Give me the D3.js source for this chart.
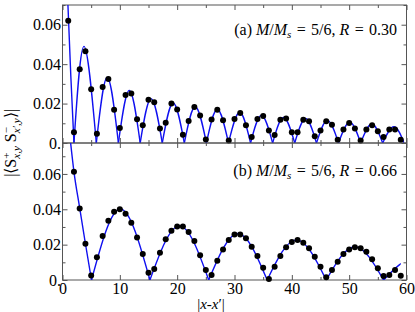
<!DOCTYPE html>
<html>
<head>
<meta charset="utf-8">
<script src="https://cdn.jsdelivr.net/npm/d3@7"></script>
<style>
  body { margin: 0; background: #fff; }
  svg text { font-family: "Liberation Serif", "Times New Roman", serif; fill: #000; }
</style>
</head>
<body>
<svg id="chart" width="415" height="312"></svg>
<script>
// (a) R = 0.30 : data points at |x-x'| = 1..59
const xA = d3.range(1, 60);
const valuesA = [
  0.062, 0.0055, 0.0374, 0.0466, 0.0273, 0.0047, 0.0284, 0.0325, 0.0169, 0.0076,
  0.0244, 0.0251, 0.012, 0.009, 0.022, 0.0207, 0.0073, 0.0103, 0.020, 0.017,
  0.0042, 0.0111, 0.0183, 0.0139, 0.0018, 0.0119, 0.0169, 0.0115, 0.0013, 0.0122,
  0.0152, 0.009, 0.003, 0.0122, 0.0137, 0.0064, 0.004, 0.0118, 0.0124, 0.0055,
  0.0055, 0.0118, 0.011, 0.0034, 0.0064, 0.011, 0.0093, 0.0017, 0.0068, 0.0101,
  0.0073, 0.0013, 0.0068, 0.009, 0.0059, 0.003, 0.0069, 0.0069, 0.0017
];
// fitted curve for (a): leading branch, zeros and arch tops
const leadA = [[0.85, 0.077], [1.45, 0.034], [2.0, 0]];
const zerosA = [2.0, 5.9, 9.75, 13.55, 17.4, 21.25, 25.1, 28.95, 32.8, 36.65, 40.5, 44.3, 48.15, 52.0, 55.85, 59.6];
const peaksA = [
  [3.75, 0.049], [7.8, 0.0332], [11.65, 0.0267], [15.45, 0.0225], [19.3, 0.0203],
  [23.15, 0.0184], [27.0, 0.0171], [30.9, 0.0156], [34.7, 0.014], [38.55, 0.013],
  [42.4, 0.0124], [46.2, 0.0115], [50.1, 0.0106], [53.95, 0.0096], [57.8, 0.0083]
];

// (b) R = 0.66 : data points at |x-x'| = 2..59
const xB = d3.range(2, 60);
const valuesB = [
  0.0612, 0.0405, 0.0205, 0.0026, 0.0128, 0.0249, 0.0335, 0.0386, 0.040,
  0.0375, 0.0324, 0.0241, 0.0147, 0.0041, 0.0062, 0.0154, 0.023, 0.0279, 0.0303,
  0.0303, 0.0271, 0.022, 0.014, 0.0056, 0.0028, 0.0109, 0.0173, 0.0226, 0.0258,
  0.0258, 0.0236, 0.0188, 0.0136, 0.007, 0.0006, 0.0075, 0.0136, 0.0185, 0.0215,
  0.0226, 0.0211, 0.0179, 0.0132, 0.0075, 0.0015, 0.0056, 0.0103, 0.0147, 0.0173,
  0.0185, 0.0179, 0.016, 0.0117, 0.0066, 0.0023, 0.0028, 0.0056, 0.0024
];
const leadB = [[1.3, 0.081], [2, 0.0612], [3, 0.0407], [4, 0.0205], [5.06, 0]];
const zerosB = [5.06, 15.25, 25.5, 35.7, 46.0, 56.0, 66.0];
const peaksB = [[10.1, 0.0402], [20.4, 0.0306], [30.6, 0.0263], [40.8, 0.0227], [51.0, 0.0188], [61.2, 0.012]];

const xMajor = [0, 10, 20, 30, 40, 50, 60];
const xMinor = [5, 15, 25, 35, 45, 55];
const yMajor = [0, 0.02, 0.04, 0.06];
const yMinor = [0.01, 0.03, 0.05, 0.07];

const panels = [
  { tag: "(a)", r: "0.30", xs: xA, vs: valuesA, lead: leadA, zeros: zerosA, peaks: peaksA,
    top: 5, bottom: 143, ymax: 0.07, xEnd: 59.6, labelY: 35 },
  { tag: "(b)", r: "0.66", xs: xB, vs: valuesB, lead: leadB, zeros: zerosB, peaks: peaksB,
    top: 143, bottom: 280, ymax: 0.0775, xEnd: 59.0, labelY: 176 }
];

const FONT = "Liberation Serif, Times New Roman, serif";
const svg = d3.select("#chart");
const left = 62.5, right = 406.5;
const x = d3.scaleLinear().domain([0, 60]).range([left, right]);
const yFmt = v => v === 0 ? "0." : d3.format(".2f")(v);
const frameColor = "#555";

panels.forEach((p, i) => {
  const y = d3.scaleLinear().domain([0, p.ymax]).range([p.bottom, p.top]);
  const g = svg.append("g");

  // clip so the curve stops at the panel edges
  svg.append("clipPath").attr("id", "clip" + i)
    .append("rect")
    .attr("x", left).attr("y", p.top)
    .attr("width", x(p.xEnd) - left).attr("height", p.bottom - p.top);

  // axes, ticks pointing inward
  const styleAxis = sel => {
    sel.attr("font-size", 16).attr("font-family", FONT);
    sel.select(".domain").remove();
    sel.selectAll("line").attr("stroke", frameColor);
    sel.selectAll("text").attr("font-family", FONT);
  };
  g.append("g").attr("transform", `translate(${left},0)`)
    .call(d3.axisLeft(y).tickValues(yMajor).tickSize(-5).tickPadding(1.5).tickFormat(yFmt)).call(styleAxis);
  g.append("g").attr("transform", `translate(${left},0)`)
    .call(d3.axisLeft(y).tickValues(yMinor.filter(v => v <= p.ymax)).tickSize(-3).tickFormat("")).call(styleAxis);
  g.append("g").attr("transform", `translate(${right},0)`)
    .call(d3.axisRight(y).tickValues(yMajor).tickSize(-5).tickFormat("")).call(styleAxis);
  g.append("g").attr("transform", `translate(${right},0)`)
    .call(d3.axisRight(y).tickValues(yMinor.filter(v => v <= p.ymax)).tickSize(-3).tickFormat("")).call(styleAxis);
  g.append("g").attr("transform", `translate(0,${p.bottom})`)
    .call(d3.axisBottom(x).tickValues(xMajor).tickSize(-5).tickPadding(3)
      .tickFormat(i === 1 ? d3.format("d") : "")).call(styleAxis);
  g.append("g").attr("transform", `translate(0,${p.bottom})`)
    .call(d3.axisBottom(x).tickValues(xMinor).tickSize(-3).tickFormat("")).call(styleAxis);
  g.append("g").attr("transform", `translate(0,${p.top})`)
    .call(d3.axisTop(x).tickValues(xMajor).tickSize(-5).tickFormat("")).call(styleAxis);
  g.append("g").attr("transform", `translate(0,${p.top})`)
    .call(d3.axisTop(x).tickValues(xMinor).tickSize(-3).tickFormat("")).call(styleAxis);

  g.append("rect")
    .attr("x", left).attr("y", p.top)
    .attr("width", right - left).attr("height", p.bottom - p.top)
    .attr("fill", "none").attr("stroke", frameColor).attr("stroke-width", 1);

  // fitted curve: leading branch + one arch between each pair of zeros
  const curveG = g.append("g").attr("clip-path", `url(#clip${i})`);
  const leadLine = d3.line().x(d => x(d[0])).y(d => y(d[1])).curve(d3.curveMonotoneX);
  const archLine = d3.line().x(d => x(d[0])).y(d => y(d[1])).curve(d3.curveNatural);
  curveG.append("path").attr("d", leadLine(p.lead))
    .attr("fill", "none").attr("stroke", "#1010f0").attr("stroke-width", 1.4);
  p.peaks.forEach((pk, k) => {
    curveG.append("path")
      .attr("d", archLine([[p.zeros[k], 0], pk, [p.zeros[k + 1], 0]]))
      .attr("fill", "none").attr("stroke", "#1010f0").attr("stroke-width", 1.4);
  });

  // data points
  g.selectAll("circle.pt").data(p.xs.map((xv, k) => [xv, p.vs[k]]))
    .enter().append("circle")
    .attr("class", "pt")
    .attr("cx", d => x(d[0]))
    .attr("cy", d => y(d[1]))
    .attr("r", 3)
    .attr("fill", "#000");

  // panel label
  const t = g.append("text")
    .attr("x", 397).attr("y", p.labelY)
    .attr("text-anchor", "end").attr("font-size", 16).attr("font-family", FONT);
  t.append("tspan").text(p.tag + " ");
  t.append("tspan").attr("font-style", "italic").text("M");
  t.append("tspan").text("/");
  t.append("tspan").attr("font-style", "italic").text("M");
  t.append("tspan").attr("font-style", "italic").attr("font-size", 11).attr("dy", 3).text("s");
  t.append("tspan").attr("dy", -3).text("\u2004=\u20045/6, ");
  t.append("tspan").attr("font-style", "italic").text("R");
  t.append("tspan").text("\u2004=\u2004" + p.r);
});

// x axis title
const xt = svg.append("text")
  .attr("x", 211).attr("y", 309)
  .attr("text-anchor", "middle").attr("font-size", 15).attr("font-family", FONT);
xt.append("tspan").text("|");
xt.append("tspan").attr("font-style", "italic").text("x");
xt.append("tspan").text("-");
xt.append("tspan").attr("font-style", "italic").text("x");
xt.append("tspan").text("′|");

// y axis title
const yt = svg.append("text")
  .attr("transform", "translate(16,143) rotate(-90)")
  .attr("text-anchor", "middle").attr("font-size", 16).attr("font-family", FONT);
yt.append("tspan").text("|⟨S");
yt.append("tspan").attr("font-size", 11).attr("dy", -6).text("+");
yt.append("tspan").attr("font-size", 11).attr("font-style", "italic").attr("dx", -6.2).attr("dy", 10).text("x,y");
yt.append("tspan").attr("dy", -4).text(" S");
yt.append("tspan").attr("font-size", 11).attr("dy", -6).text("−");
yt.append("tspan").attr("font-size", 11).attr("font-style", "italic").attr("dx", -6.2).attr("dy", 10).text("x′,y");
yt.append("tspan").attr("dy", -4).text("⟩|");
</script>
</body>
</html>
